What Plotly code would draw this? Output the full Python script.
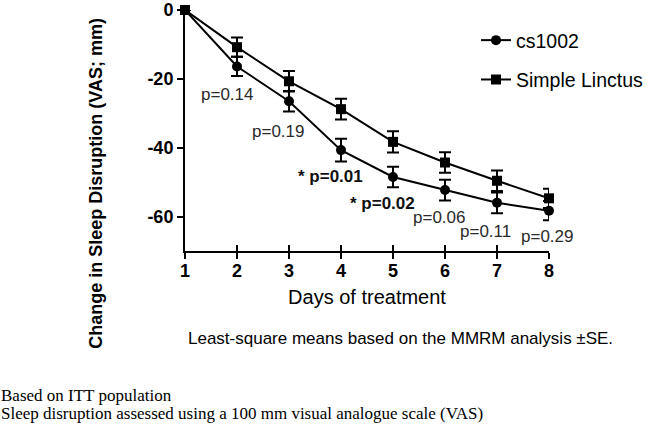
import plotly.graph_objects as go

days = [1, 2, 3, 4, 5, 6, 7, 8]
cs1002 = [0, -16.4, -26.5, -40.7, -48.5, -52.3, -56.0, -58.3]
cs1002_se = [0, 2.8, 3.0, 3.3, 3.0, 3.0, 3.0, 2.8]
linctus = [0, -10.8, -20.7, -28.8, -38.3, -44.3, -49.6, -54.7]
linctus_se = [0, 2.8, 3.0, 3.0, 3.1, 3.0, 3.0, 2.8]

y_ticks = [0, -20, -40, -60]

p_labels = ["p=0.14", "p=0.19", "* p=0.01", "* p=0.02", "p=0.06", "p=0.11", "p=0.29"]
p_x = [1.81, 2.78, 3.80, 4.80, 5.88, 6.77, 7.96]
p_y = [-24.5, -35.2, -48.5, -56.1, -60.4, -64.2, -65.9]
p_bold = [False, False, True, True, False, False, False]

SANS = "Liberation Sans, Arial, sans-serif"
SERIF = "Liberation Serif, Times New Roman, serif"

W, H = 652, 426
L, T, R, B = 185, 9.5, 652 - 549, 426 - 251.5
plot_w = W - L - R
plot_h = H - T - B


def px_to_paper(sx, sy):
    """page pixel -> paper coords"""
    return (sx - L) / plot_w, (H - B - sy) / plot_h


fig = go.Figure()
fig.add_trace(go.Scatter(
    x=days, y=cs1002, name="cs1002", mode="lines+markers",
    line=dict(color="black", width=2),
    marker=dict(symbol="circle", size=10, color="black"),
    error_y=dict(type="data", array=cs1002_se, color="black", thickness=2, width=6),
    cliponaxis=False, legendgroup="a",
))
fig.add_trace(go.Scatter(
    x=days, y=linctus, name="Simple Linctus", mode="lines+markers",
    line=dict(color="black", width=2),
    marker=dict(symbol="square", size=10, color="black"),
    error_y=dict(type="data", array=linctus_se, color="black", thickness=2, width=6),
    cliponaxis=False, legendgroup="b",
))
# invisible trace on secondary x axis so its (inside) ticks are drawn
fig.add_trace(go.Scatter(x=[days[0]], y=[y_ticks[0]], xaxis="x2", mode="markers",
                         marker=dict(opacity=0), showlegend=False, hoverinfo="skip"))

for t, x, y, b in zip(p_labels, p_x, p_y, p_bold):
    fig.add_annotation(
        x=x, y=y, xref="x", yref="y", showarrow=False,
        text=f"<b>{t}</b>" if b else t,
        font=dict(family=SANS, size=17, color="#111" if b else "#2a2a2a"),
        xanchor="center", yanchor="middle",
    )

ax, ay = px_to_paper(96, 184)
fig.add_annotation(
    x=ax, y=ay, xref="paper", yref="paper", showarrow=False,
    text="<b>Change in Sleep Disruption (VAS; mm)</b>", textangle=-90,
    font=dict(family=SANS, size=18, color="black"),
    xanchor="center", yanchor="middle",
)
lx, ly = px_to_paper(400, 339)
fig.add_annotation(
    x=lx, y=ly, xref="paper", yref="paper", showarrow=False,
    text="Least-square means based on the MMRM analysis ±SE.",
    font=dict(family=SANS, size=17, color="black"),
    xanchor="center", yanchor="middle",
)
fx1, fy1 = px_to_paper(-1, 397)
fx2, fy2 = px_to_paper(-1, 415)
fig.add_annotation(x=fx1, y=fy1, xref="paper", yref="paper", showarrow=False,
                   text="Based on ITT population", xanchor="left", yanchor="middle",
                   font=dict(family=SERIF, size=17, color="black"))
fig.add_annotation(x=fx2, y=fy2, xref="paper", yref="paper", showarrow=False,
                   text="Sleep disruption assessed using a 100 mm visual analogue scale (VAS)",
                   xanchor="left", yanchor="middle",
                   font=dict(family=SERIF, size=17, color="black"))

lgx, lgy = px_to_paper(476, 20.5)
fig.update_layout(
    width=W, height=H,
    margin=dict(l=L, r=R, t=T, b=B, autoexpand=False),
    plot_bgcolor="white", paper_bgcolor="white",
    showlegend=True,
    legend=dict(
        x=lgx, y=lgy, xanchor="left", yanchor="top",
        font=dict(family=SANS, size=19.5, color="black"),
        tracegroupgap=11, bgcolor="rgba(0,0,0,0)",
    ),
    xaxis=dict(
        range=[1, 8], tickvals=days, ticktext=[f"<b>{d}</b>" for d in days],
        showline=True, linecolor="black", linewidth=2,
        ticks="outside", ticklen=6, tickwidth=2, tickcolor="black",
        showgrid=False, zeroline=False, automargin=False,
        ticklabelstandoff=-4,
        tickfont=dict(family=SANS, size=18, color="black"),
        title=dict(text="Days of treatment", font=dict(family=SANS, size=20, color="black"), standoff=10),
    ),
    xaxis2=dict(
        range=[1, 8], tickvals=days, overlaying="x", side="bottom", anchor="y",
        showticklabels=False, showline=False, showgrid=False, zeroline=False,
        ticks="inside", ticklen=6, tickwidth=2, tickcolor="black", automargin=False,
    ),
    yaxis=dict(
        range=[-70, 0], tickvals=y_ticks,
        ticktext=[f"<b>{v}</b>" for v in y_ticks],
        showline=True, linecolor="black", linewidth=2,
        ticks="outside", ticklen=6, tickwidth=2, tickcolor="black",
        showgrid=False, zeroline=False, automargin=False,
        ticklabeloverflow="allow",
        tickfont=dict(family=SANS, size=18, color="black"),
    ),
)

# remove the browser's default page margin so the figure sits at the window's corner
fig.write_html("out.html", config={"displayModeBar": False},
               post_script="document.body.style.margin='0';")
